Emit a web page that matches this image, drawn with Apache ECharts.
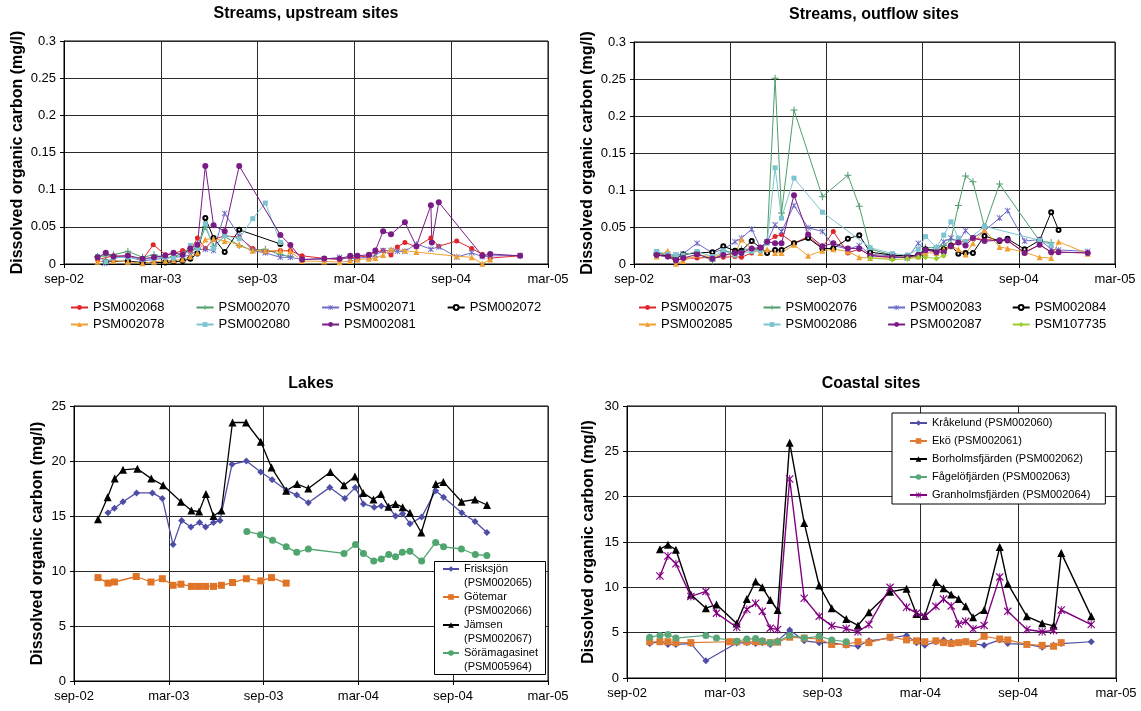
<!DOCTYPE html>
<html>
<head>
<meta charset="utf-8">
<script src="https://cdn.jsdelivr.net/npm/echarts@6/dist/echarts.min.js"></script>
<style>
  html, body { margin: 0; padding: 0; background: #fff; }
  #chart { width: 1141px; height: 711px; }
</style>
</head>
<body>
<div id="chart"></div>
<script>
// Half-year tick labels shared by all four time axes
const tickLabels = ['sep-02', 'mar-03', 'sep-03', 'mar-04', 'sep-04', 'mar-05'];

// Sampling times are months after 1 September 2002; values are DOC in mg/l.

// Streams, upstream sites
const psm002068 = [[2.08,0.006],[3.07,0.011],[3.96,0.010],[4.87,0.006],[5.53,0.026],[6.28,0.0125],[6.79,0.014],[7.35,0.018],[7.83,0.018],[8.27,0.035],[8.76,0.021],[9.27,0.033],[9.96,0.038],[10.86,0.036],[11.70,0.021],[12.48,0.016],[13.41,0.018],[14.03,0.018],[14.76,0.011],[16.13,0.0075],[17.08,0.006],[17.74,0.009],[18.19,0.009],[18.90,0.011],[19.30,0.016],[19.78,0.018],[20.27,0.012],[20.66,0.023],[21.13,0.029],[21.84,0.023],[22.74,0.035],[23.23,0.024],[24.34,0.031],[25.27,0.021],[25.93,0.013],[26.42,0.008],[28.27,0.011]];
const psm002070 = [[2.08,0.010],[2.59,0.011],[3.07,0.0125],[3.96,0.017],[4.87,0.009],[5.58,0.0125],[6.28,0.008],[6.79,0.010],[7.35,0.014],[7.83,0.018],[8.27,0.021],[8.76,0.050],[9.27,0.024],[9.96,0.037],[10.86,0.025],[11.70,0.018],[12.48,0.020],[13.41,0.0125],[14.03,0.010]];
const psm002071 = [[2.52,0.001],[3.07,0.008],[3.96,0.010],[4.87,0.004],[5.58,0.006],[6.28,0.008],[6.79,0.009],[7.35,0.010],[7.83,0.012],[8.27,0.019],[8.76,0.020],[9.27,0.018],[9.96,0.068],[10.86,0.038],[11.70,0.018],[12.48,0.015],[13.41,0.009],[14.03,0.009],[14.76,0.006],[16.13,0.0065],[17.08,0.009],[17.74,0.007],[18.19,0.008],[18.90,0.009],[19.30,0.012],[19.78,0.018],[20.27,0.018],[20.66,0.017],[21.13,0.017],[21.84,0.027],[22.74,0.020],[23.23,0.023],[24.34,0.0095],[25.27,0.015],[25.93,0.010],[26.42,0.011],[28.27,0.0115]];
const psm002072 = [[2.59,0.003],[3.96,0.004],[4.87,0.002],[6.28,0.002],[6.79,0.003],[7.35,0.004],[7.83,0.007],[8.27,0.014],[8.76,0.062],[9.27,0.035],[9.96,0.016],[10.86,0.046],[13.41,0.027]];
const psm002078 = [[2.08,0.003],[3.07,0.0045],[3.96,0.003],[4.87,0.001],[5.58,0.003],[6.28,0.0045],[6.79,0.005],[7.35,0.006],[7.83,0.010],[8.27,0.015],[8.76,0.033],[9.27,0.034],[9.96,0.031],[10.86,0.026],[11.70,0.018],[12.48,0.018],[13.41,0.018],[14.03,0.017],[14.76,0.004],[16.13,0.0035],[17.08,0.0025],[17.74,0.004],[18.19,0.006],[18.90,0.007],[19.30,0.008],[19.78,0.012],[20.27,0.020],[21.13,0.018],[21.84,0.016],[24.34,0.0105],[25.27,0.009],[25.93,0.0005],[26.42,0.006]];
const psm002080 = [[2.08,0.010],[2.59,0.003],[3.07,0.009],[3.96,0.009],[4.87,0.006],[5.58,0.008],[6.28,0.009],[6.79,0.008],[7.35,0.012],[7.83,0.025],[8.27,0.021],[8.76,0.054],[9.27,0.021],[9.96,0.038],[10.86,0.034],[11.70,0.061],[12.48,0.082],[13.41,0.029]];
const psm002081 = [[2.08,0.009],[2.59,0.015],[3.07,0.010],[3.96,0.0115],[4.87,0.007],[5.58,0.009],[6.28,0.0115],[6.79,0.015],[7.35,0.0125],[7.83,0.021],[8.27,0.026],[8.76,0.132],[9.27,0.052],[9.96,0.044],[10.86,0.132],[13.41,0.039],[14.03,0.0255],[14.76,0.006],[16.13,0.0075],[17.08,0.007],[17.74,0.011],[18.19,0.011],[18.90,0.0125],[19.30,0.018],[19.78,0.044],[20.27,0.040],[21.13,0.056],[21.84,0.024],[22.74,0.079],[22.80,0.029],[23.23,0.083],[25.93,0.011],[26.42,0.0135],[28.27,0.011]];

// Streams, outflow sites
const psm002075 = [[1.41,0.012],[2.11,0.010],[2.61,0.004],[3.07,0.008],[3.93,0.008],[4.89,0.009],[5.57,0.009],[6.30,0.010],[6.70,0.009],[7.34,0.015],[7.89,0.022],[8.30,0.030],[8.80,0.037],[9.20,0.040],[9.98,0.028],[10.86,0.037],[11.75,0.022],[12.43,0.044],[13.34,0.015],[14.05,0.020],[14.73,0.012],[16.11,0.009],[17.05,0.009],[17.73,0.010],[18.18,0.018],[18.86,0.020],[19.32,0.020],[19.77,0.025],[20.23,0.030],[20.68,0.030],[21.14,0.035],[21.86,0.033],[22.80,0.032],[23.30,0.031],[24.36,0.016],[25.30,0.026],[26.02,0.016],[26.48,0.016],[28.30,0.015]];
const psm002076 = [[1.41,0.015],[2.11,0.010],[2.61,0.011],[3.07,0.013],[3.93,0.015],[4.89,0.004],[5.57,0.018],[6.30,0.015],[6.70,0.020],[7.34,0.020],[7.89,0.020],[8.30,0.030],[8.80,0.251],[9.20,0.069],[9.98,0.208],[11.75,0.091],[13.34,0.120],[14.05,0.078],[14.73,0.020],[16.11,0.012],[17.05,0.010],[17.73,0.012],[18.18,0.022],[18.86,0.022],[19.32,0.025],[19.77,0.033],[20.23,0.079],[20.68,0.119],[21.14,0.111],[21.86,0.050],[22.80,0.108],[25.30,0.031],[26.02,0.029]];
const psm002083 = [[1.41,0.015],[2.11,0.013],[2.61,0.012],[3.07,0.014],[3.93,0.028],[4.89,0.015],[5.57,0.020],[6.30,0.030],[6.70,0.035],[7.34,0.047],[7.89,0.022],[8.30,0.030],[8.80,0.053],[9.20,0.044],[9.98,0.079],[10.86,0.049],[11.75,0.044],[12.43,0.025],[13.34,0.020],[14.05,0.025],[14.73,0.013],[16.11,0.011],[17.05,0.008],[17.73,0.028],[18.18,0.018],[18.86,0.020],[19.32,0.030],[19.77,0.035],[20.23,0.030],[20.68,0.045],[21.14,0.035],[21.86,0.045],[22.80,0.062],[23.30,0.072],[24.36,0.031],[25.30,0.033],[26.02,0.020],[26.48,0.019],[28.30,0.017]];
const psm002084 = [[1.41,0.013],[2.11,0.011],[2.61,0.007],[3.07,0.013],[3.93,0.015],[4.89,0.016],[5.57,0.024],[6.30,0.018],[6.70,0.018],[7.34,0.031],[7.89,0.022],[8.30,0.015],[8.80,0.019],[9.20,0.019],[9.98,0.028],[10.86,0.035],[11.75,0.021],[12.43,0.021],[13.34,0.034],[14.05,0.039],[14.73,0.016],[16.11,0.012],[17.05,0.011],[17.73,0.012],[18.18,0.020],[18.86,0.018],[19.32,0.020],[19.77,0.025],[20.23,0.014],[20.68,0.015],[21.14,0.015],[21.86,0.038],[22.80,0.031],[23.30,0.034],[24.36,0.020],[25.30,0.032],[26.02,0.070],[26.48,0.046]];
const psm002085 = [[1.41,0.010],[2.11,0.018],[2.61,0.0005],[3.07,0.004],[3.93,0.012],[4.89,0.010],[5.57,0.012],[6.30,0.013],[6.70,0.033],[7.34,0.020],[7.89,0.015],[8.30,0.020],[8.80,0.015],[9.20,0.015],[9.98,0.026],[10.86,0.011],[11.75,0.018],[12.43,0.020],[13.34,0.017],[14.05,0.009],[14.73,0.008],[16.11,0.008],[17.05,0.010],[17.73,0.010],[18.18,0.015],[18.86,0.015],[19.32,0.020],[19.77,0.024],[20.23,0.020],[20.68,0.013],[21.14,0.028],[21.86,0.046],[22.80,0.023],[23.30,0.021],[24.36,0.016],[25.30,0.009],[26.02,0.008],[26.48,0.030],[28.30,0.014]];
const psm002086 = [[1.41,0.017],[2.11,0.013],[2.61,0.012],[3.07,0.012],[3.93,0.017],[4.89,0.010],[5.57,0.018],[6.30,0.012],[6.70,0.015],[7.34,0.017],[7.89,0.018],[8.30,0.028],[8.80,0.130],[9.20,0.062],[9.98,0.116],[11.75,0.070],[14.73,0.022],[16.11,0.014],[17.05,0.012],[17.73,0.020],[18.18,0.037],[18.86,0.022],[19.32,0.039],[19.77,0.057],[20.23,0.035],[20.68,0.030],[21.86,0.051],[25.30,0.032],[26.02,0.026]];
const psm002087 = [[1.41,0.012],[2.11,0.010],[2.61,0.005],[3.07,0.008],[3.93,0.013],[4.89,0.007],[5.57,0.012],[6.30,0.015],[6.70,0.015],[7.34,0.021],[7.89,0.022],[8.30,0.030],[8.80,0.028],[9.20,0.028],[9.98,0.093],[10.86,0.040],[11.75,0.024],[12.43,0.028],[13.34,0.021],[14.05,0.021],[14.73,0.011],[16.11,0.009],[17.05,0.009],[17.73,0.012],[18.18,0.019],[18.86,0.016],[19.32,0.016],[19.77,0.024],[20.23,0.029],[20.68,0.025],[21.14,0.035],[21.86,0.031],[22.80,0.032],[23.30,0.032],[24.36,0.015],[25.30,0.026],[26.02,0.016],[26.48,0.016],[28.30,0.015]];
const psm107735 = [[14.73,0.008],[16.11,0.006],[17.05,0.007],[17.73,0.009],[18.18,0.009],[18.86,0.0075],[19.32,0.011]];

// Lakes
const frisksjon = [[2.15,15.3],[2.56,15.7],[3.10,16.3],[3.96,17.1],[4.96,17.1],[5.59,16.6],[6.27,12.4],[6.81,14.6],[7.40,14.0],[7.95,14.4],[8.33,14.0],[8.83,14.4],[9.24,14.6],[10.00,19.7],[10.91,20.0],[11.82,19.0],[12.54,18.3],[13.43,17.35],[14.10,16.9],[14.83,16.2],[16.19,17.6],[17.14,16.6],[17.80,17.6],[18.32,16.1],[19.00,15.8],[19.45,15.9],[19.90,15.8],[20.35,15.0],[20.80,15.2],[21.26,14.3],[22.00,14.9],[22.89,17.3],[23.39,16.7],[24.54,15.3],[25.38,14.5],[26.13,13.5]];
const gotemar = [[1.52,9.4],[2.15,8.9],[2.56,9.0],[3.94,9.5],[4.87,9.0],[5.59,9.3],[6.27,8.7],[6.77,8.8],[7.43,8.6],[7.88,8.6],[8.33,8.6],[8.83,8.6],[9.33,8.7],[10.03,8.95],[10.91,9.3],[11.82,9.1],[12.50,9.4],[13.43,8.9]];
const jamsen = [[1.52,14.7],[2.13,16.7],[2.58,18.4],[3.10,19.2],[4.01,19.3],[4.89,18.4],[5.64,17.8],[6.77,16.3],[7.43,15.5],[7.92,15.4],[8.35,17.0],[8.83,15.0],[9.33,15.5],[10.03,23.5],[10.89,23.5],[11.82,21.75],[12.50,19.4],[13.43,17.3],[14.12,17.9],[14.83,17.5],[16.23,19.0],[17.09,17.8],[17.78,18.6],[18.30,17.1],[18.95,16.5],[19.43,17.0],[19.90,15.85],[20.35,16.1],[20.80,15.8],[21.26,15.3],[21.98,13.5],[22.90,17.9],[23.38,18.1],[24.53,16.3],[25.38,16.5],[26.14,16.0]];
const soramagasinet = [[10.94,13.6],[11.80,13.3],[12.57,12.8],[13.43,12.2],[14.10,11.7],[14.83,12.0],[17.09,11.6],[17.82,12.4],[18.32,11.6],[18.97,10.9],[19.45,11.1],[19.92,11.5],[20.35,11.3],[20.78,11.7],[21.26,11.8],[22.00,10.9],[22.89,12.6],[23.39,12.2],[24.52,12.0],[25.40,11.5],[26.13,11.4]];

// Coastal sites
const krakelund = [[1.39,3.8],[2.02,4.0],[2.51,3.7],[3.00,3.7],[3.92,3.8],[4.84,1.9],[6.73,3.85],[7.35,3.9],[7.89,3.8],[8.30,3.9],[8.79,3.7],[9.24,4.1],[9.98,5.3],[10.87,4.1],[11.79,3.9],[12.56,3.9],[13.45,3.6],[14.17,3.5],[14.84,4.1],[16.14,4.4],[17.15,4.7],[17.76,3.9],[18.27,3.6],[18.95,4.0],[19.42,4.2],[19.89,4.0],[20.34,3.9],[20.78,4.0],[21.23,3.8],[21.91,3.6],[22.87,4.2],[23.36,3.8],[24.53,3.7],[25.47,3.4],[26.17,3.6],[26.64,3.8],[28.48,4.0]];
const eko = [[1.39,4.0],[2.02,4.0],[2.51,4.0],[3.00,3.9],[3.92,3.9],[6.30,4.0],[6.73,4.0],[7.35,4.0],[7.89,4.0],[8.30,4.0],[8.79,3.9],[9.24,3.95],[9.98,4.5],[10.87,4.4],[11.79,4.3],[12.56,3.7],[13.45,3.7],[14.17,4.0],[14.84,3.9],[16.14,4.5],[17.15,4.2],[17.76,4.1],[18.27,4.0],[18.95,4.1],[19.42,3.9],[19.89,3.8],[20.34,3.9],[20.78,4.0],[21.23,3.8],[21.91,4.6],[22.87,4.3],[23.36,4.2],[24.53,3.7],[25.47,3.6],[26.17,3.5],[26.64,3.9]];
const borholmsfjarden = [[2.02,14.2],[2.51,14.7],[3.00,14.15],[3.92,9.2],[4.84,7.7],[5.49,8.1],[6.73,6.0],[7.35,8.7],[7.89,10.65],[8.30,10.0],[8.79,8.6],[9.24,7.5],[9.98,25.95],[10.87,17.1],[11.79,10.2],[12.56,7.7],[13.45,6.5],[14.17,5.8],[14.84,7.25],[16.14,9.5],[17.15,9.85],[17.76,7.05],[18.27,6.85],[18.95,10.6],[19.42,9.9],[19.89,9.2],[20.34,8.7],[20.78,7.9],[21.23,6.7],[21.91,7.5],[22.87,14.45],[23.36,10.4],[24.53,6.8],[25.47,6.05],[26.17,5.75],[26.64,13.8],[28.48,6.8]];
const fagelofjarden = [[1.39,4.5],[2.02,4.7],[2.51,4.8],[3.00,4.4],[4.84,4.7],[5.49,4.4],[6.73,4.05],[7.35,4.3],[7.89,4.35],[8.30,4.1],[8.79,3.9],[9.24,4.0],[9.98,4.7],[10.87,4.4],[11.79,4.6],[12.56,4.2],[13.45,4.0]];
const granholmsfjarden = [[2.02,11.25],[2.51,13.45],[3.00,12.6],[3.92,9.0],[4.84,9.55],[5.49,7.15],[6.73,5.6],[7.35,7.55],[7.89,8.25],[8.30,7.35],[8.79,5.5],[9.24,5.35],[9.98,21.95],[10.87,8.8],[11.79,6.8],[12.56,5.75],[13.45,5.45],[14.17,5.1],[14.84,5.9],[16.14,10.0],[17.15,7.8],[17.76,7.15],[18.27,6.8],[18.95,7.9],[19.42,8.7],[19.89,7.95],[20.34,5.95],[20.78,6.25],[21.23,5.4],[21.91,5.8],[22.87,11.15],[23.36,7.35],[24.53,5.35],[25.47,5.1],[26.17,5.25],[26.64,7.5],[28.48,5.9]];

const FONT = "'Liberation Sans', Arial, Helvetica, sans-serif";

// Marker shapes not built into ECharts
const PLUS = 'path://M4.3,0H5.7V4.3H10V5.7H5.7V10H4.3V5.7H0V4.3H4.3Z';
const STAR = 'path://M0,1L1,0L5,4L9,0L10,1L6,5L10,9L9,10L5,6L1,10L0,9L4,5ZM4.4,0H5.6V10H4.4Z';

const grids = [
  { left: 64, top: 41, width: 484, height: 223 },
  { left: 634, top: 42, width: 481, height: 222 },
  { left: 74, top: 406, width: 474, height: 275 },
  { left: 627, top: 406, width: 489, height: 272 }
].map(g => Object.assign(g, { show: true, borderColor: '#000', borderWidth: 1, backgroundColor: 'transparent' }));

function xAxis(i) {
  return {
    type: 'value', gridIndex: i, min: 0, max: 30, interval: 6,
    axisLine: { show: true, onZero: false, lineStyle: { color: '#000', width: 1 } },
    axisTick: { show: true, inside: false, length: 4, lineStyle: { color: '#000' } },
    axisLabel: { color: '#000', fontSize: 13, fontFamily: FONT, margin: 9,
      formatter: v => tickLabels[Math.round(v / 6)] },
    splitLine: { show: true, lineStyle: { color: '#2a2a2a', width: 1 } }
  };
}
function yAxis(i, max, interval, gap) {
  return {
    type: 'value', gridIndex: i, min: 0, max: max, interval: interval,
    name: 'Dissolved organic carbon (mg/l)', nameLocation: 'middle', nameGap: gap, nameRotate: 90,
    nameTextStyle: { fontSize: 16, fontWeight: 'bold', color: '#000', fontFamily: FONT },
    axisLine: { show: true, lineStyle: { color: '#000', width: 1 } },
    axisTick: { show: true, inside: false, length: 4, lineStyle: { color: '#000' } },
    axisLabel: { color: '#000', fontSize: 13, fontFamily: FONT, margin: 8,
      formatter: v => String(Math.round(v * 100) / 100) },
    splitLine: { show: true, lineStyle: { color: '#2a2a2a', width: 1 } }
  };
}

function line(name, data, idx, color, symbol, size, width) {
  return {
    type: 'line', name: name, data: data, xAxisIndex: idx, yAxisIndex: idx,
    symbol: symbol, symbolSize: size, showAllSymbol: true,
    lineStyle: { color: color, width: width },
    itemStyle: { color: color, borderColor: color, borderWidth: symbol === 'emptyCircle' ? 0.8 : 0 },
    emphasis: { disabled: true }, z: 2
  };
}

const series = [
  line('PSM002068', psm002068, 0, '#e0262b', 'circle', 5, 1),
  line('PSM002070', psm002070, 0, '#4e9e6a', PLUS, 7, 1),
  line('PSM002071', psm002071, 0, '#6b6bc6', STAR, 6, 1),
  line('PSM002072', psm002072, 0, '#000000', 'emptyCircle', 4, 1),
  line('PSM002078', psm002078, 0, '#f0a030', 'triangle', 6, 1),
  line('PSM002080', psm002080, 0, '#7cc4d0', 'rect', 5, 1),
  line('PSM002081', psm002081, 0, '#7a1b86', 'circle', 6, 1),

  line('PSM002075', psm002075, 1, '#e0262b', 'circle', 5, 1),
  line('PSM002076', psm002076, 1, '#4e9e6a', PLUS, 7, 1),
  line('PSM002083', psm002083, 1, '#6b6bc6', STAR, 6, 1),
  line('PSM002084', psm002084, 1, '#000000', 'emptyCircle', 4, 1),
  line('PSM002085', psm002085, 1, '#f0a030', 'triangle', 6, 1),
  line('PSM002086', psm002086, 1, '#7cc4d0', 'rect', 5, 1),
  line('PSM002087', psm002087, 1, '#7a1b86', 'circle', 6, 1),
  line('PSM107735', psm107735, 1, '#9acd32', 'diamond', 6, 1),

  line('Frisksjön (PSM002065)', frisksjon, 2, '#4e4ea6', 'diamond', 7, 1.3),
  line('Götemar (PSM002066)', gotemar, 2, '#e07326', 'rect', 7, 1.3),
  line('Jämsen (PSM002067)', jamsen, 2, '#000000', 'triangle', 8, 1.3),
  line('Sörämagasinet (PSM005964)', soramagasinet, 2, '#4fa56e', 'circle', 7, 1.3),

  line('Kråkelund (PSM002060)', krakelund, 3, '#4e4ea6', 'diamond', 7, 1.2),
  line('Ekö (PSM002061)', eko, 3, '#e07a30', 'rect', 7, 1.2),
  line('Borholmsfjärden (PSM002062)', borholmsfjarden, 3, '#000000', 'triangle', 8, 1.4),
  line('Fågelöfjärden (PSM002063)', fagelofjarden, 3, '#5aa77a', 'circle', 7, 1.2),
  line('Granholmsfjärden (PSM002064)', granholmsfjarden, 3, '#800080', STAR, 8, 1.4)
];

const rowLegend = (left, top, gap, names) => ({
  orient: 'horizontal', left: left, top: top, padding: 0, itemGap: gap,
  itemWidth: 17, itemHeight: 6, selectedMode: false, data: names,
  textStyle: { fontSize: 13, lineHeight: 15, color: '#000', fontFamily: FONT }
});

const titleStyle = { fontSize: 16, fontWeight: 'bold', color: '#000', fontFamily: FONT };
const title = (text, cx, top) => ({ text: text, left: cx, top: top, textAlign: 'center', padding: 0, textStyle: titleStyle });

const option = {
  animation: false,
  backgroundColor: '#fff',
  title: [
    title('Streams, upstream sites', 306, 6),
    title('Streams, outflow sites', 874, 7),
    title('Lakes', 311, 376),
    title('Coastal sites', 871, 376)
  ],
  grid: grids,
  xAxis: [xAxis(0), xAxis(1), xAxis(2), xAxis(3)],
  yAxis: [yAxis(0, 0.3, 0.05, 38), yAxis(1, 0.3, 0.05, 38), yAxis(2, 25, 5, 28), yAxis(3, 30, 5, 30)],
  legend: [
    rowLegend(70, 300, 31, ['PSM002068', 'PSM002070', 'PSM002071', 'PSM002072']),
    rowLegend(70, 317, 31, ['PSM002078', 'PSM002080', 'PSM002081']),
    rowLegend(638, 300, 30, ['PSM002075', 'PSM002076', 'PSM002083', 'PSM002084']),
    rowLegend(638, 317, 30, ['PSM002085', 'PSM002086', 'PSM002087', 'PSM107735']),
    {
      // lake names wrap onto two lines; the leading blank line keeps the key beside the first line
      orient: 'vertical', left: 442, top: 548, padding: 0, itemGap: -14,
      itemWidth: 16, itemHeight: 7, selectedMode: false, z: 6,
      data: ['Frisksjön (PSM002065)', 'Götemar (PSM002066)', 'Jämsen (PSM002067)', 'Sörämagasinet (PSM005964)'],
      formatter: n => '\n' + n.replace(' (', '\n('),
      textStyle: { fontSize: 11, lineHeight: 14, color: '#000', fontFamily: FONT }
    },
    {
      orient: 'vertical', left: 892, top: 413, padding: [3, 15, 2, 17], itemGap: 4,
      itemWidth: 17, itemHeight: 7, selectedMode: false,
      backgroundColor: '#fff', borderColor: '#000', borderWidth: 1,
      data: ['Kråkelund (PSM002060)', 'Ekö (PSM002061)', 'Borholmsfjärden (PSM002062)', 'Fågelöfjärden (PSM002063)', 'Granholmsfjärden (PSM002064)'],
      textStyle: { fontSize: 11, lineHeight: 14, color: '#000', fontFamily: FONT }
    }
  ],
  graphic: [{
    type: 'rect', z: 5, left: 434, top: 561,
    shape: { width: 111, height: 113 },
    style: { fill: '#fff', stroke: '#000', lineWidth: 1 }
  }],
  series: series
};

const chart = echarts.init(document.getElementById('chart'), null, { renderer: 'canvas' });
chart.setOption(option);
</script>
</body>
</html>
